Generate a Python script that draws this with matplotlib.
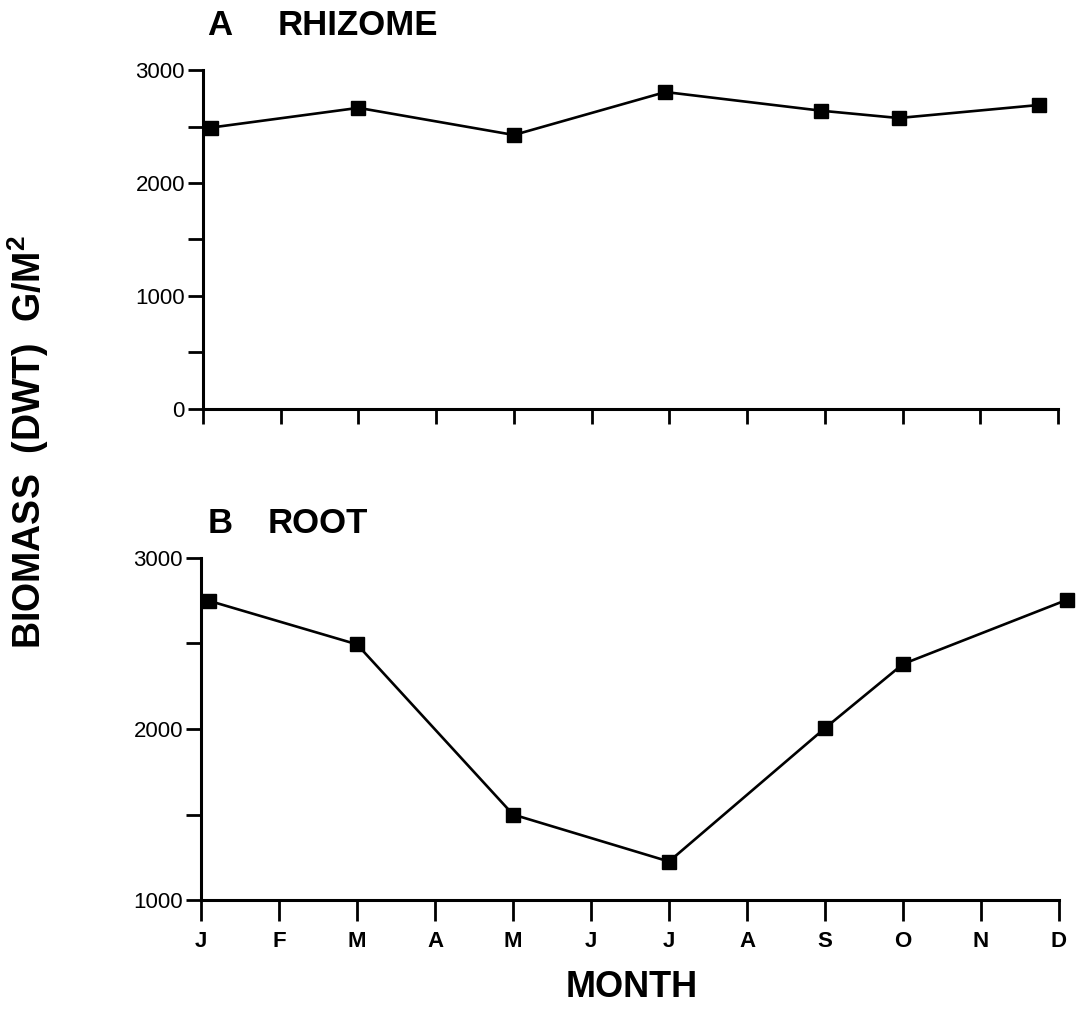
import numpy as np
import matplotlib
matplotlib.use("Agg")
import matplotlib.pyplot as plt

plt.rcParams["font.family"] = ["Liberation Sans", "DejaVu Sans"]
plt.rcParams["mathtext.fontset"] = "custom"
plt.rcParams["mathtext.bf"] = "Liberation Sans:bold"
plt.rcParams["mathtext.rm"] = "Liberation Sans"

# monthly biomass (dry weight, g/m2)
months = ["J", "F", "M", "A", "M", "J", "J", "A", "S", "O", "N", "D"]

rhizome_x = [0.1, 2.0, 4.0, 5.95, 7.95, 8.95, 10.75]
rhizome_y = [2490, 2665, 2425, 2805, 2640, 2575, 2690]

root_x = [0.1, 2.0, 4.0, 6.0, 8.0, 9.0, 11.1]
root_y = [2750, 2495, 1500, 1225, 2005, 2380, 2755]

W, H = 1082, 1011
fig = plt.figure(figsize=(W / 100, H / 100), dpi=100)


def px_axes(left, right, top, bottom):
    return fig.add_axes([left / W, 1 - bottom / H, (right - left) / W, (bottom - top) / H])


ax1 = px_axes(203, 1058, 70, 409)
ax2 = px_axes(201, 1059, 558, 900)

line_kw = dict(color="black", lw=1.9, marker="s", ms=10, clip_on=False)
ax1.plot(rhizome_x, rhizome_y, **line_kw)
ax2.plot(root_x, root_y, **line_kw)

for ax, ylo in [(ax1, 0), (ax2, 1000)]:
    ax.set_xlim(0, 11)
    ax.set_ylim(ylo, 3000)
    ax.spines["top"].set_visible(False)
    ax.spines["right"].set_visible(False)
    for s in ("left", "bottom"):
        ax.spines[s].set_linewidth(2.2)
    ax.set_xticks(np.arange(12))
    ax.set_yticks(np.arange(ylo, 3001, 500))
    ax.set_yticklabels([str(v) if v % 1000 == 0 else "" for v in range(ylo, 3001, 500)])
    ax.tick_params(axis="y", direction="out", length=11, width=2, labelsize=16, pad=2)

ax1.tick_params(axis="x", direction="out", length=11, width=2, labelbottom=False)
ax2.tick_params(axis="x", direction="out", length=15, width=2, labelsize=16, pad=7)
ax2.set_xticklabels(months, fontweight="bold")

# panel titles
fig.text(207 / W, 1 - 35 / H, "A", fontsize=25, fontweight="bold", va="baseline")
fig.text(278 / W, 1 - 35 / H, "RHIZOME", fontsize=25, fontweight="bold", va="baseline")
fig.text(208 / W, 1 - 533 / H, "B", fontsize=25, fontweight="bold", va="baseline")
fig.text(268 / W, 1 - 533 / H, "ROOT", fontsize=25, fontweight="bold", va="baseline")

fig.text(632 / W, 1 - 997 / H, "MONTH", fontsize=26, fontweight="bold",
         ha="center", va="baseline")
fig.text(28 / W, 1 - 442 / H, r"BIOMASS  (DWT)  G/M$^{\mathbf{2}}$", fontsize=27,
         fontweight="bold", rotation=90, ha="center", va="center")

fig.savefig("out.png", dpi=100)
